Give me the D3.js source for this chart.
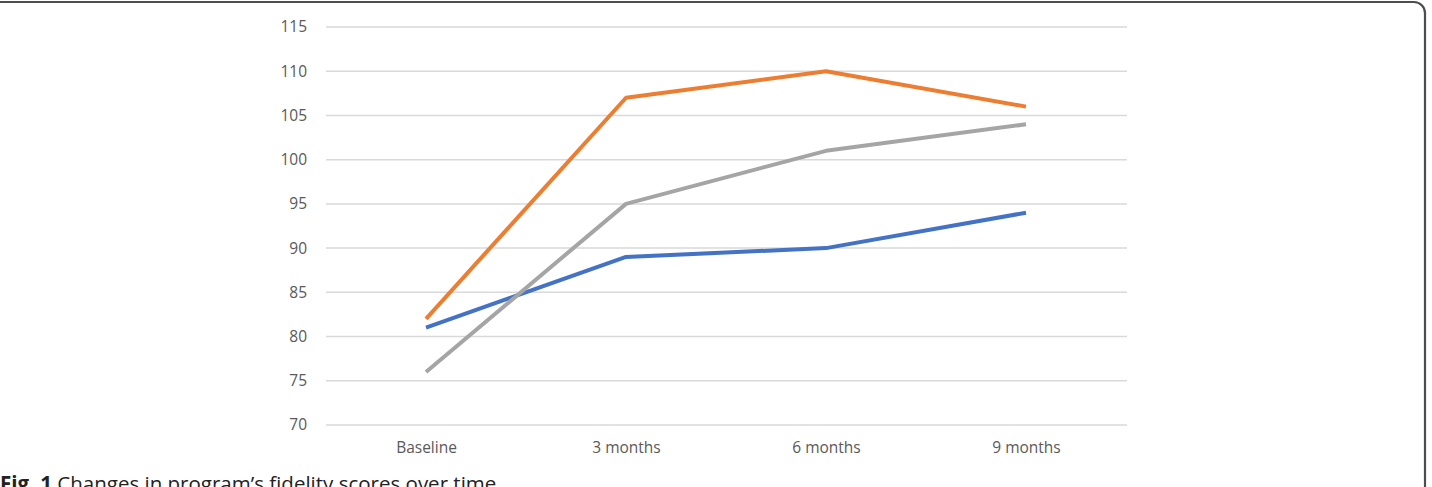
<!DOCTYPE html>
<html>
<head>
<meta charset="utf-8">
<script src="https://cdn.jsdelivr.net/npm/d3@7"></script>
<style>
  body { margin: 0; background: #fff; overflow: hidden; }
  svg { display: block; }
</style>
</head>
<body>
<div id="chart"></div>
<script>
// data
const periods = ["Baseline", "3 months", "6 months", "9 months"];
const orangeSeries = [82, 107, 110, 106];
const graySeries = [76, 95, 101, 104];
const blueSeries = [81, 89, 90, 94];
const yTicks = [70, 75, 80, 85, 90, 95, 100, 105, 110, 115];

const series = [
  {values: blueSeries, color: "#4472C4"},
  {values: graySeries, color: "#A5A5A5"},
  {values: orangeSeries, color: "#ED7D31"}
];

const W = 1432, H = 487;

const svg = d3.select("#chart")
  .append("svg")
  .attr("width", W)
  .attr("height", H);

// figure frame (rounded box cut by the window)
svg.append("rect")
  .attr("x", -20)
  .attr("y", 2)
  .attr("width", 1445)
  .attr("height", 540)
  .attr("rx", 11)
  .attr("fill", "none")
  .attr("stroke", "#4d4d4d")
  .attr("stroke-width", 2.2);

// scales
const x = d3.scalePoint()
  .domain(periods)
  .range([426, 1026]);

const y = d3.scaleLinear()
  .domain([70, 115])
  .range([425, 27]);

// gridlines
svg.append("g")
  .selectAll("line")
  .data(yTicks)
  .enter()
  .append("line")
  .attr("x1", 326)
  .attr("x2", 1127)
  .attr("y1", d => y(d))
  .attr("y2", d => y(d))
  .attr("stroke", "#d9d9d9")
  .attr("stroke-width", 1.5);

// y axis labels
const yAxis = svg.append("g")
  .attr("transform", "translate(316,0)")
  .call(d3.axisLeft(y).tickValues(yTicks).tickSize(0).tickPadding(9));
yAxis.select(".domain").remove();
yAxis.selectAll("text")
  .attr("fill", "#595959")
  .style("font-family", "'Open Sans', sans-serif")
  .style("font-size", "15.5px");

// x axis labels
const xAxis = svg.append("g")
  .attr("transform", "translate(0,442)")
  .call(d3.axisBottom(x).tickSize(0).tickPadding(0));
xAxis.select(".domain").remove();
xAxis.selectAll("text")
  .attr("fill", "#595959")
  .style("font-family", "'Open Sans', sans-serif")
  .style("font-size", "15.5px");

// lines
const line = d3.line()
  .x((d, i) => x(periods[i]))
  .y(d => y(d));

svg.append("g")
  .selectAll("path")
  .data(series)
  .enter()
  .append("path")
  .attr("d", d => line(d.values))
  .attr("fill", "none")
  .attr("stroke", d => d.color)
  .attr("stroke-width", 4)
  .attr("stroke-linejoin", "round")
  .attr("stroke-linecap", "butt");

// caption
const caption = svg.append("text")
  .attr("x", 0)
  .attr("y", 491)
  .style("font-family", "'Open Sans', sans-serif")
  .style("font-size", "20.5px")
  .attr("fill", "#222");
caption.append("tspan")
  .attr("font-weight", "bold")
  .text("Fig. 1");
caption.append("tspan")
  .text(" Changes in program\u2019s fidelity scores over time");
</script>
</body>
</html>
